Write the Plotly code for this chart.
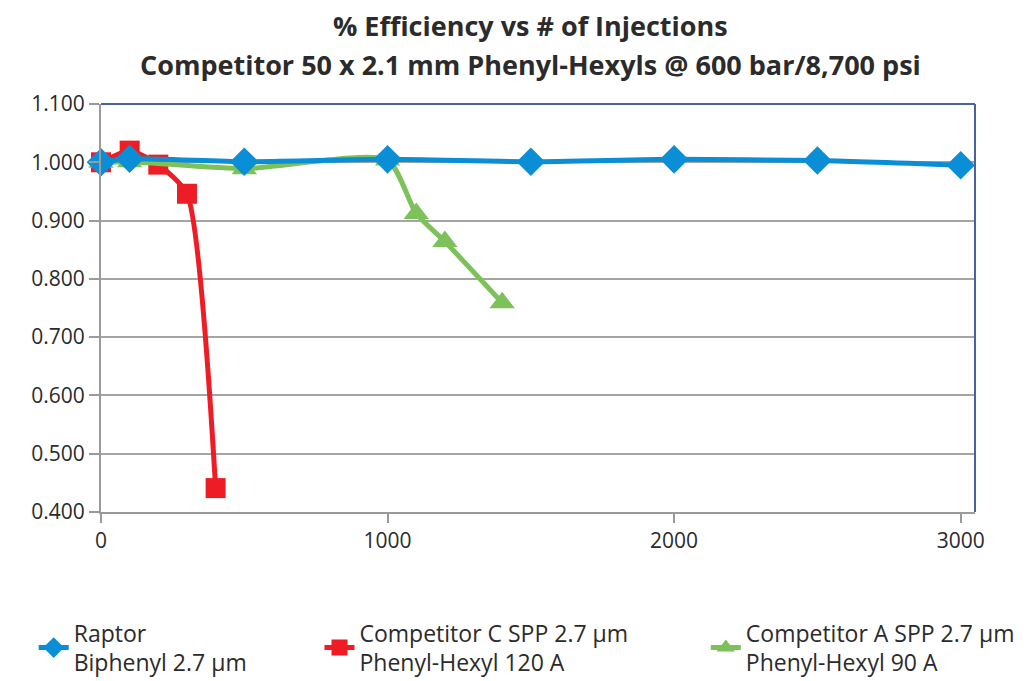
import plotly.graph_objects as go

# injections / relative efficiency
raptor_x = [0, 100, 500, 1000, 1500, 2000, 2500, 3000]
raptor_y = [1.000, 1.006, 1.001, 1.005, 1.001, 1.005, 1.003, 0.995]

comp_c_x = [0, 100, 200, 300, 400]
comp_c_y = [1.000, 1.020, 0.996, 0.946, 0.441]

comp_a_x = [0, 100, 500, 1000, 1100, 1200, 1400]
comp_a_y = [1.000, 1.001, 0.989, 1.004, 0.912, 0.864, 0.759]

y_ticks = [0.4, 0.5, 0.6, 0.7, 0.8, 0.9, 1.0, 1.1]
x_ticks = [0, 1000, 2000, 3000]

BLUE = "#0a8fd6"
RED = "#ee1c24"
GREEN = "#7cc159"
TEXT = "#2b2b2b"
FONT = "Open Sans"

fig = go.Figure()

fig.add_trace(go.Scatter(
    x=comp_c_x, y=comp_c_y, mode="lines+markers",
    name="Competitor C SPP 2.7 µm<br>Phenyl-Hexyl 120 A",
    line=dict(color=RED, width=5, shape="spline", smoothing=0.6),
    marker=dict(symbol="square", size=20, color=RED),
    cliponaxis=False, legend="legend2",
))
fig.add_trace(go.Scatter(
    x=comp_a_x, y=comp_a_y, mode="lines+markers",
    name="Competitor A SPP 2.7 µm<br>Phenyl-Hexyl 90 A",
    line=dict(color=GREEN, width=5, shape="spline", smoothing=0.6),
    marker=dict(symbol="triangle-up", size=22, color=GREEN),
    cliponaxis=False, legend="legend3",
))
# blue series drawn last so it sits on top, as in the original
fig.add_trace(go.Scatter(
    x=raptor_x, y=raptor_y, mode="lines+markers",
    name="Raptor<br>Biphenyl 2.7 µm",
    line=dict(color=BLUE, width=5, shape="spline", smoothing=0.6),
    marker=dict(symbol="diamond", size=22, color=BLUE),
    cliponaxis=False, legend="legend",
))

legend_style = dict(
    orientation="h", yanchor="top", y=-0.243, xanchor="left",
    font=dict(family=FONT, size=23, color=TEXT),
    bgcolor="rgba(0,0,0,0)", itemwidth=30,
)

# page body adds an 8px offset, margins compensate for it
fig.update_layout(
    width=1035, height=681,
    margin=dict(l=93, r=68, t=96, b=177, autoexpand=False),
    paper_bgcolor="white", plot_bgcolor="white",
    font=dict(family=FONT, color=TEXT),
    showlegend=True,
    legend=dict(legend_style, x=-0.077),
    legend2=dict(legend_style, x=0.250),
    legend3=dict(legend_style, x=0.692),
    xaxis=dict(
        range=[0, 3050], tickvals=x_ticks, ticktext=[str(v) for v in x_ticks],
        showgrid=False, zeroline=False, automargin=False,
        showline=True, linecolor="#9a9a9a", linewidth=2,
        ticks="outside", ticklen=9, tickwidth=2, tickcolor="#9a9a9a",
        tickfont=dict(size=21, color=TEXT),
    ),
    yaxis=dict(
        range=[0.4, 1.1], tickvals=y_ticks, ticktext=["%.3f" % v for v in y_ticks],
        showgrid=True, gridcolor="#a5a5a5", gridwidth=2, zeroline=False, automargin=False,
        showline=True, linecolor="#9a9a9a", linewidth=2,
        ticks="outside", ticklen=10, tickwidth=2, tickcolor="#9a9a9a",
        tickfont=dict(size=21, color=TEXT),
    ),
    shapes=[
        # dark blue top and right frame edges
        dict(type="line", xref="paper", yref="paper", x0=0, x1=1, y0=1, y1=1,
             line=dict(color="#4a62a0", width=2)),
        dict(type="line", xref="paper", yref="paper", x0=1, x1=1, y0=0, y1=1,
             line=dict(color="#4a62a0", width=2)),
    ],
    annotations=[
        dict(text="<b>% Efficiency vs # of Injections</b>", xref="paper", yref="paper",
             x=0.491, y=1.0 + 79 / 408, showarrow=False, xanchor="center", yanchor="middle",
             font=dict(size=27, color=TEXT)),
        dict(text="<b>Competitor 50 x 2.1 mm Phenyl-Hexyls @ 600 bar/8,700 psi</b>",
             xref="paper", yref="paper",
             x=0.491, y=1.0 + 39 / 408, showarrow=False, xanchor="center", yanchor="middle",
             font=dict(size=27, color=TEXT)),
    ],
)

fig.write_html("out.html")
